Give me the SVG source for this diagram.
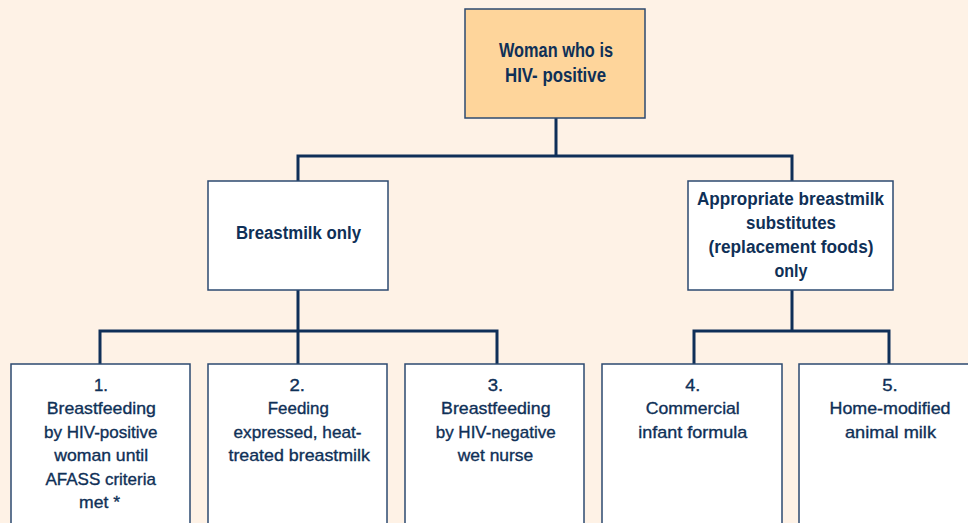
<svg xmlns="http://www.w3.org/2000/svg" width="968" height="523" viewBox="0 0 968 523">
<style>
.bg{fill:#fef2e6}
.box{fill:#ffffff;stroke:#2d4a70;stroke-width:1.5}
.top{fill:#fed59b;stroke:#2d4a70;stroke-width:1.5}
.conn{fill:none;stroke:#0f2f58;stroke-width:3}
text{font-family:"Liberation Sans",Arial,sans-serif;fill:#0f3057;text-anchor:middle}
.t{font-size:19.5px;font-weight:bold}
.h{font-size:17.5px;font-weight:bold}
.c{font-size:17px;stroke:#0f3057;stroke-width:0.35}
</style>
<rect class="bg" x="0" y="0" width="968" height="523"/>
<g id="connectors">
<path class="conn" d="M556,118 V156 M298,181 V156 H792 V181"/>
<path class="conn" d="M298,290 V331 M100,364 V331 H497 V364 M298,331 V364"/>
<path class="conn" d="M792,290 V331 M694,364 V331 H889 V364"/>
</g>
<g id="root">
<rect class="top" x="465" y="9" width="180" height="109"/>
<text class="t" x="556" y="57" textLength="114" lengthAdjust="spacingAndGlyphs">Woman who is</text>
<text class="t" x="555.5" y="82" textLength="101" lengthAdjust="spacingAndGlyphs">HIV- positive</text>
</g>
<g id="breastmilk">
<rect class="box" x="208" y="181" width="180" height="109"/>
<text class="h" x="298.5" y="239" textLength="125" lengthAdjust="spacingAndGlyphs">Breastmilk only</text>
</g>
<g id="substitutes">
<rect class="box" x="688" y="181" width="205" height="109"/>
<text class="h" x="790.5" y="205" textLength="187" lengthAdjust="spacingAndGlyphs">Appropriate breastmilk</text>
<text class="h" x="791" y="229" textLength="90" lengthAdjust="spacingAndGlyphs">substitutes</text>
<text class="h" x="791" y="253" textLength="165" lengthAdjust="spacingAndGlyphs">(replacement foods)</text>
<text class="h" x="791" y="276.5" textLength="33" lengthAdjust="spacingAndGlyphs">only</text>
</g>
<g id="opt1">
<rect class="box" x="11" y="364" width="179" height="170"/>
<text class="c" x="101" y="390.5" textLength="14" lengthAdjust="spacingAndGlyphs">1.</text>
<text class="c" x="101.3" y="414" textLength="109" lengthAdjust="spacingAndGlyphs">Breastfeeding</text>
<text class="c" x="100.8" y="437.5" textLength="113.5" lengthAdjust="spacingAndGlyphs">by HIV-positive</text>
<text class="c" x="101.2" y="461" textLength="94" lengthAdjust="spacingAndGlyphs">woman until</text>
<text class="c" x="100.7" y="484.5" textLength="110.5" lengthAdjust="spacingAndGlyphs">AFASS criteria</text>
<text class="c" x="99.5" y="508" textLength="41" lengthAdjust="spacingAndGlyphs">met *</text>
</g>
<g id="opt2">
<rect class="box" x="208" y="364" width="179" height="170"/>
<text class="c" x="297.2" y="390.5" textLength="15.5" lengthAdjust="spacingAndGlyphs">2.</text>
<text class="c" x="298.3" y="414" textLength="61" lengthAdjust="spacingAndGlyphs">Feeding</text>
<text class="c" x="297.5" y="437.5" textLength="128" lengthAdjust="spacingAndGlyphs">expressed, heat-</text>
<text class="c" x="299.2" y="461" textLength="141.5" lengthAdjust="spacingAndGlyphs">treated breastmilk</text>
</g>
<g id="opt3">
<rect class="box" x="405" y="364" width="179" height="170"/>
<text class="c" x="495.5" y="390.5" textLength="15.5" lengthAdjust="spacingAndGlyphs">3.</text>
<text class="c" x="495.8" y="414" textLength="109.5" lengthAdjust="spacingAndGlyphs">Breastfeeding</text>
<text class="c" x="495.7" y="437.5" textLength="120" lengthAdjust="spacingAndGlyphs">by HIV-negative</text>
<text class="c" x="495.5" y="461" textLength="75.5" lengthAdjust="spacingAndGlyphs">wet nurse</text>
</g>
<g id="opt4">
<rect class="box" x="602" y="364" width="180" height="170"/>
<text class="c" x="692.8" y="390.5" textLength="15" lengthAdjust="spacingAndGlyphs">4.</text>
<text class="c" x="692.8" y="414" textLength="94" lengthAdjust="spacingAndGlyphs">Commercial</text>
<text class="c" x="692.8" y="437.5" textLength="109" lengthAdjust="spacingAndGlyphs">infant formula</text>
</g>
<g id="opt5">
<rect class="box" x="799" y="364" width="180" height="170"/>
<text class="c" x="890" y="390.5" textLength="15.5" lengthAdjust="spacingAndGlyphs">5.</text>
<text class="c" x="890" y="414" textLength="121" lengthAdjust="spacingAndGlyphs">Home-modified</text>
<text class="c" x="890.5" y="437.5" textLength="91" lengthAdjust="spacingAndGlyphs">animal milk</text>
</g>
</svg>
